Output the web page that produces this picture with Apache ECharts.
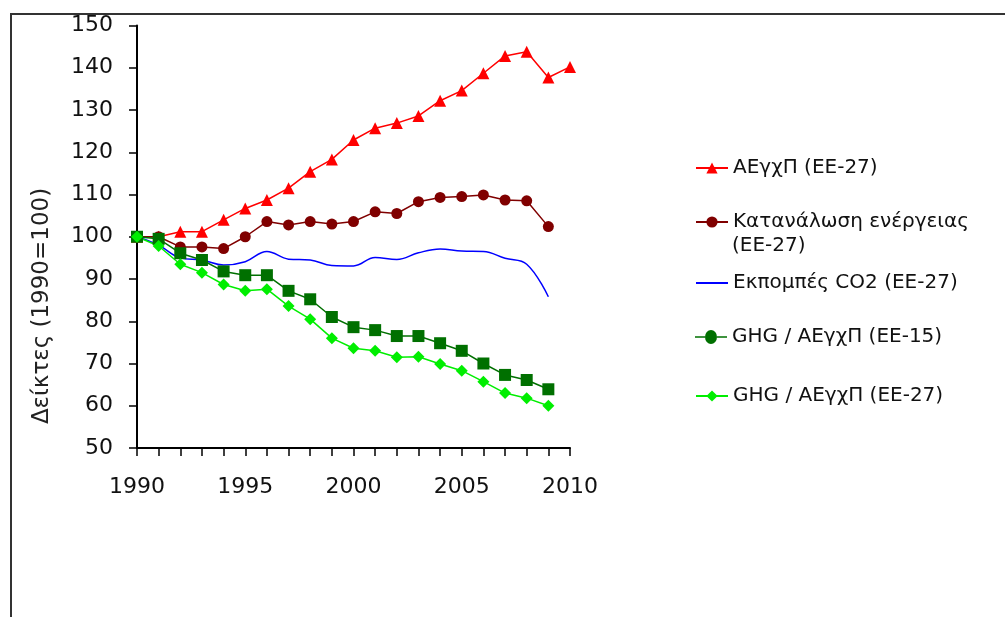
<!DOCTYPE html>
<html>
<head>
<meta charset="utf-8">
<script src="https://cdn.jsdelivr.net/npm/echarts@6/dist/echarts.min.js"></script>
<style>
  html, body { margin: 0; padding: 0; background: #fff; }
  #main { width: 1005px; height: 617px; }
</style>
</head>
<body>
<div id="main"></div>
<script>
// έτη και δείκτες (1990=100)
const years = [1990, 1991, 1992, 1993, 1994, 1995, 1996, 1997, 1998, 1999, 2000,
               2001, 2002, 2003, 2004, 2005, 2006, 2007, 2008, 2009, 2010];
const gdp27 = [100, 100, 101.2, 101.2, 104, 106.7, 108.7, 111.5, 115.4, 118.3, 122.9,
               125.7, 126.9, 128.6, 132.2, 134.6, 138.7, 142.8, 143.8, 137.7, 140.2];
const energy27 = [100, 100, 97.6, 97.6, 97.2, 100, 103.6, 102.8, 103.6, 103.0, 103.6,
                  105.9, 105.5, 108.3, 109.3, 109.5, 109.9, 108.7, 108.5, 102.4];
const co2_27 = [100, 98, 95, 94.5, 93.3, 94.1, 96.5, 94.7, 94.5, 93.2, 93.1,
                95.1, 94.6, 96.2, 97.1, 96.6, 96.5, 94.9, 93.5, 85.8];
const ghgGdp15 = [100, 99.5, 96.1, 94.5, 91.8, 90.9, 90.9, 87.2, 85.2, 81.0, 78.6,
                  77.9, 76.5, 76.5, 74.8, 73.0, 70.0, 67.3, 66.1, 63.9];
const ghgGdp27 = [100, 97.8, 93.5, 91.5, 88.7, 87.2, 87.6, 83.6, 80.5, 76.0, 73.6,
                  73.0, 71.5, 71.6, 69.9, 68.3, 65.7, 63.0, 61.8, 60.0];
const names = ['ΑΕγχΠ (ΕΕ-27)', 'Κατανάλωση ενέργειας (ΕΕ-27)', 'Εκπομπές CO2 (ΕΕ-27)',
               'GHG / ΑΕγχΠ (ΕΕ-15)', 'GHG / ΑΕγχΠ (ΕΕ-27)'];
const xTicks = [1990, 1995, 2000, 2005, 2010];

const FONT = 'DejaVu Sans';
const pairs = vals => vals.map((v, i) => [years[i], v]);

// γραμμή + κύκλος για το υπόμνημα της ΕΕ-15
const lineCircleIcon = 'path://M0,6.2L10,6.2L10,7.8L0,7.8Z M22,6.2L32,6.2L32,7.8L22,7.8Z ' +
                       'M10,7A6,7 0 1,1 22,7A6,7 0 1,1 10,7Z';

const chart = echarts.init(document.getElementById('main'));

function legendAt(name, top, extra) {
    return Object.assign({
        data: [name],
        left: 695,
        top: top,
        orient: 'vertical',
        itemWidth: 32,
        itemHeight: 14,
        itemGap: 0,
        padding: 0,
        selectedMode: false,
        textStyle: { fontFamily: FONT, fontSize: 20, color: '#111' }
    }, extra || {});
}

const option = {
    animation: false,
    backgroundColor: '#fff',
    grid: { left: 137, top: 25.5, right: 435, bottom: 169 },
    xAxis: {
        type: 'value',
        min: 1990,
        max: 2010,
        interval: 5,
        axisLine: { lineStyle: { color: '#000', width: 2 } },
        axisTick: { show: true, length: 8, lineStyle: { color: '#000', width: 1.5 } },
        minorTick: { show: true, splitNumber: 5, length: 8, lineStyle: { color: '#000', width: 1.5 } },
        splitLine: { show: false },
        axisLabel: {
            margin: 28,
            fontFamily: FONT, fontSize: 22, color: '#111',
            formatter: v => xTicks.indexOf(v) >= 0 ? String(v) : ''
        }
    },
    yAxis: {
        type: 'value',
        min: 50,
        max: 150,
        interval: 10,
        axisLine: { show: true, lineStyle: { color: '#000', width: 2 } },
        axisTick: { show: true, length: 8, lineStyle: { color: '#000', width: 1.5 } },
        splitLine: { show: false },
        axisLabel: { margin: 24, fontFamily: FONT, fontSize: 22, color: '#111' }
    },
    legend: [
        legendAt(names[0], 158),
        legendAt(names[1], 212, { formatter: () => 'Κατανάλωση ενέργειας' }),
        legendAt(names[2], 273, { itemStyle: { color: 'rgba(0,0,0,0)', borderWidth: 0 } }),
        legendAt(names[3], 327, { data: [{ name: names[3], icon: lineCircleIcon }] }),
        legendAt(names[4], 386)
    ],
    graphic: [
        {
            type: 'polyline',
            shape: { points: [[11, 630], [11, 14], [1010, 14]] },
            style: { stroke: '#333', lineWidth: 2, fill: null },
            silent: true
        },
        {
            type: 'text',
            x: 42,
            y: 306,
            rotation: Math.PI / 2,
            style: {
                text: 'Δείκτες (1990=100)',
                fontFamily: FONT,
                fontSize: 23,
                fill: '#222',
                align: 'center',
                verticalAlign: 'middle'
            }
        },
        {
            // δεύτερη γραμμή του υπομνήματος "Κατανάλωση ενέργειας"
            type: 'text',
            x: 732,
            y: 246,
            style: {
                text: '(ΕΕ-27)',
                fontFamily: FONT,
                fontSize: 20,
                fill: '#111',
                align: 'left',
                verticalAlign: 'middle'
            }
        }
    ],
    series: [
        {
            name: names[0], type: 'line', data: pairs(gdp27),
            symbol: 'triangle', symbolSize: 12,
            lineStyle: { color: '#ff0000', width: 1.5 },
            itemStyle: { color: '#ff0000' }
        },
        {
            name: names[1], type: 'line', data: pairs(energy27),
            symbol: 'circle', symbolSize: 11,
            lineStyle: { color: '#800000', width: 1.5 },
            itemStyle: { color: '#800000' }
        },
        {
            name: names[2], type: 'line', data: pairs(co2_27),
            symbol: 'none', smooth: 0.4,
            lineStyle: { color: '#0000ff', width: 1.5 },
            itemStyle: { color: '#0000ff' }
        },
        {
            name: names[3], type: 'line', data: pairs(ghgGdp15),
            symbol: 'rect', symbolSize: 12,
            lineStyle: { color: '#007000', width: 1.5 },
            itemStyle: { color: '#007000' }
        },
        {
            name: names[4], type: 'line', data: pairs(ghgGdp27),
            symbol: 'diamond', symbolSize: 12,
            lineStyle: { color: '#00ee00', width: 1.5 },
            itemStyle: { color: '#00ee00' }
        }
    ]
};

chart.setOption(option);
</script>
</body>
</html>
